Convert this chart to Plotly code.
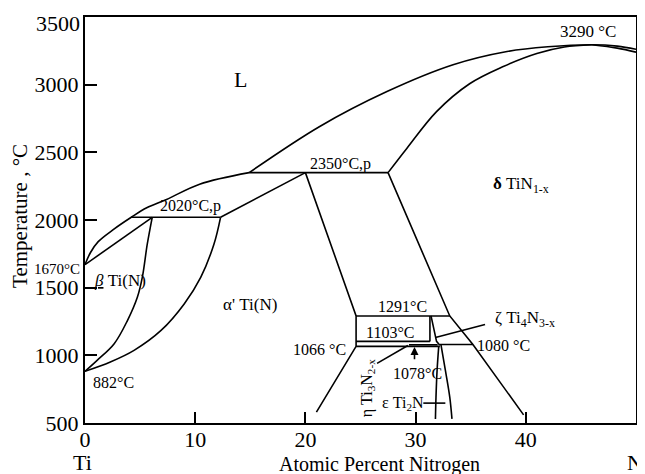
import plotly.graph_objects as go

# ---- data (atomic % N, temperature °C) ----
liq_left_x = [0, 0.5, 1.2, 2.5, 4.2, 5.6, 7.4, 10.4, 14.9]
liq_left_y = [1670, 1760, 1840, 1925, 2020, 2090, 2152, 2265, 2350]

liq_upper_x = [14.9, 21.3, 27.4, 33.4, 38.3, 42.0, 46.0, 48.3, 50.0]
liq_upper_y = [2350, 2691, 2949, 3147, 3245, 3280, 3295, 3285, 3262]

delta_sol_x = [27.5, 29.2, 31.9, 34.9, 37.9, 41.0, 43.5, 46.0]
delta_sol_y = [2350, 2529, 2801, 3007, 3132, 3230, 3278, 3295]

delta_right_x = [46.0, 48.3, 50.0]
delta_right_y = [3295, 3270, 3240]

beta_liq_x = [0, 6.1]
beta_liq_y = [1670, 2020]

beta_transus_x = [6.1, 5.65, 5.2, 4.75, 3.85, 2.65, 1.1, 0]
beta_transus_y = [2020, 1821, 1576, 1429, 1257, 1086, 963, 882]

alpha_transus_x = [12.3, 11.7, 10.5, 9.0, 6.9, 4.45, 2.3, 0]
alpha_transus_y = [2020, 1821, 1576, 1380, 1184, 1037, 951, 882]

iso2020_x = [4.2, 12.3]
iso2020_y = [2020, 2020]

alpha_liq_x = [12.3, 20.0]
alpha_liq_y = [2020, 2350]

iso2350_x = [14.9, 27.5]
iso2350_y = [2350, 2350]

alpha_bound_x = [20.0, 24.6, 24.6, 21.0]
alpha_bound_y = [2350, 1291, 1066, 580]

delta_bound_x = [27.5, 33.1, 35.2, 39.8]
delta_bound_y = [2350, 1291, 1080, 560]

iso1291_x = [24.6, 33.1]
iso1291_y = [1291, 1291]

iso1103_x = [24.6, 31.3]
iso1103_y = [1103, 1103]

zeta_left_x = [31.3, 31.3]
zeta_left_y = [1291, 1103]

zeta_right_x = [31.4, 31.9, 32.2]
zeta_right_y = [1291, 1103, 1075]

iso1066_x = [24.6, 32.2]
iso1066_y = [1066, 1066]

iso1080_x = [32.2, 35.2]
iso1080_y = [1080, 1080]

iso1078_x = [29.4, 32.0]
iso1078_y = [1078, 1078]

eps_left_x = [32.1, 31.95, 31.85, 31.8]
eps_left_y = [1066, 890, 691, 530]

eps_right_x = [32.3, 32.7, 33.1, 33.3]
eps_right_y = [1080, 890, 691, 530]

zeta_ptr_x = [36.3, 31.8]
zeta_ptr_y = [1228, 1132]

eta_ptr_x = [26.5, 29.3]
eta_ptr_y = [941, 1073]

eps_ptr_x = [30.7, 32.7]
eps_ptr_y = [647, 647]

x_ticks = [0, 10, 20, 30, 40, 50]
y_ticks = [500, 1000, 1500, 2000, 2500, 3000, 3500]
# the top label (3500) sits just under the frame in the reference; it is drawn as a text below
y_ticktext = ["500", "1000", "1500", "2000", "2500", "3000", ""]

labels_text = ["L", "3290 °C", "2350°C,p", "<b>δ</b> TiN<sub>1-x</sub>", "2020°C,p",
               "<u><i>β</i></u> Ti(N)", "α' Ti(N)", "882°C", "1066 °C", "1291°C", "1103°C",
               "ζ Ti<sub>4</sub>N<sub>3-x</sub>", "1080 °C", "1078°C",
               "η Ti<sub>3</sub>N<sub>2-x</sub>", "ε Ti<sub>2</sub>N"]

# ---- layout of labels (data coords): (x, y, xanchor, size, angle) ----
label_pos = [
    (14.1, 3037, "center", 22, 0),
    (42.9, 3390, "left", 17, 0),
    (20.2, 2412, "left", 16, 0),
    (36.8, 2257, "left", 17, 0),
    (6.6, 2103, "left", 16, 0),
    (0.6, 1551, "left", 17, 0),
    (12.3, 1375, "left", 17, 0),
    (0.5, 801, "left", 16, 0),
    (23.9, 1044, "right", 16, 0),
    (26.4, 1360, "left", 16, 0),
    (25.3, 1169, "left", 16, 0),
    (37.0, 1272, "left", 17, 0),
    (35.4, 1074, "left", 16, 0),
    (27.8, 868, "left", 16, 0),
    (25.6, 757, "center", 16, -90),
    (26.8, 647, "left", 16, 0),
]

# texts outside the plot area (paper coords)
outer_text = ["3500", "1670°C", "Ti", "N", "Atomic Percent Nitrogen", "Temperature , °C"]
outer_pos = [
    (-0.0055, 0.983, "right", 22, 0),
    (-0.005, 0.38, "right", 15, 0),
    (-0.005, -0.097, "center", 22, 0),
    (0.998, -0.097, "center", 22, 0),
    (0.534, -0.101, "center", 20, 0),
    (-0.118, 0.51, "center", 21, -90),
]

FONT = "Liberation Serif, Times New Roman, serif"

curves = [
    (liq_left_x, liq_left_y, "spline"),
    (liq_upper_x, liq_upper_y, "spline"),
    (delta_sol_x, delta_sol_y, "spline"),
    (delta_right_x, delta_right_y, "spline"),
    (beta_liq_x, beta_liq_y, "linear"),
    (beta_transus_x, beta_transus_y, "spline"),
    (alpha_transus_x, alpha_transus_y, "spline"),
    (iso2020_x, iso2020_y, "linear"),
    (alpha_liq_x, alpha_liq_y, "linear"),
    (iso2350_x, iso2350_y, "linear"),
    (alpha_bound_x, alpha_bound_y, "linear"),
    (delta_bound_x, delta_bound_y, "linear"),
    (iso1291_x, iso1291_y, "linear"),
    (iso1103_x, iso1103_y, "linear"),
    (zeta_left_x, zeta_left_y, "linear"),
    (zeta_right_x, zeta_right_y, "linear"),
    (iso1066_x, iso1066_y, "linear"),
    (iso1080_x, iso1080_y, "linear"),
    (iso1078_x, iso1078_y, "linear"),
    (eps_left_x, eps_left_y, "spline"),
    (eps_right_x, eps_right_y, "spline"),
    (zeta_ptr_x, zeta_ptr_y, "linear"),
    (eta_ptr_x, eta_ptr_y, "linear"),
    (eps_ptr_x, eps_ptr_y, "linear"),
]

fig = go.Figure()
for cx, cy, shape in curves:
    fig.add_trace(go.Scatter(x=cx, y=cy, mode="lines",
                             line=dict(color="black", width=1.6, shape=shape),
                             showlegend=False, hoverinfo="skip"))

annotations = []
for txt, (ax_, ay_, anc, sz, ang) in zip(labels_text, label_pos):
    annotations.append(dict(x=ax_, y=ay_, xref="x", yref="y", text=txt, showarrow=False,
                            xanchor=anc, yanchor="middle", textangle=ang,
                            font=dict(family=FONT, size=sz, color="black")))
for txt, (px_, py_, anc, sz, ang) in zip(outer_text, outer_pos):
    annotations.append(dict(x=px_, y=py_, xref="paper", yref="paper", text=txt,
                            showarrow=False, xanchor=anc, yanchor="middle", textangle=ang,
                            font=dict(family=FONT, size=sz, color="black")))

# arrow for 1078 °C
annotations.append(dict(x=29.9, y=1062, ax=29.9, ay=960, xref="x", yref="y",
                        axref="x", ayref="y", text="", showarrow=True,
                        arrowhead=2, arrowsize=1, arrowwidth=1.6, arrowcolor="black"))

# the page body has an 8px margin: size the figure so the plot area lands where the reference has it
fig.update_layout(
    width=637, height=466,
    margin=dict(l=77, r=9, t=7, b=51),
    plot_bgcolor="white", paper_bgcolor="white",
    annotations=annotations,
    font=dict(family=FONT, color="black"),
)
fig.update_xaxes(range=[0, 50], tickvals=x_ticks, ticktext=[str(v) for v in x_ticks],
                 showgrid=False, zeroline=False, showline=True, linecolor="black",
                 linewidth=2, mirror=True, ticks="inside", ticklen=11, tickwidth=1.6,
                 tickcolor="black", ticklabelstandoff=-4,
                 tickfont=dict(family=FONT, size=22, color="black"))
fig.update_yaxes(range=[500, 3500], tickvals=y_ticks, ticktext=y_ticktext,
                 showgrid=False, zeroline=False, showline=True, linecolor="black",
                 linewidth=2, mirror=True, ticks="inside", ticklen=12, tickwidth=1.6,
                 tickcolor="black", tickfont=dict(family=FONT, size=22, color="black"))

fig.write_html("out.html")
